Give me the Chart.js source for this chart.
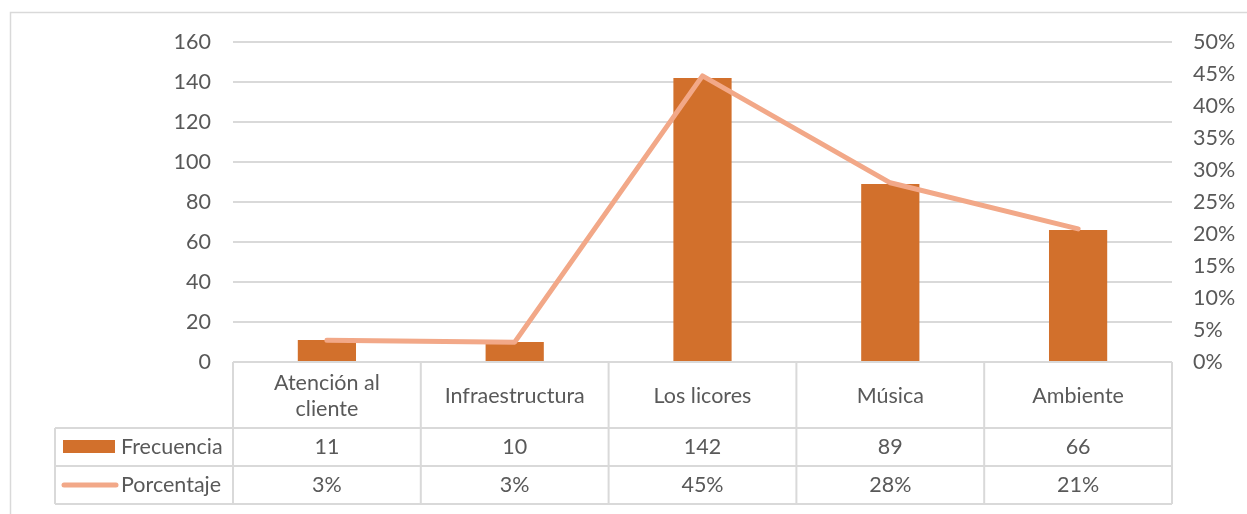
<!DOCTYPE html>
<html>
<head>
<meta charset="utf-8">
<script src="https://cdn.jsdelivr.net/npm/chart.js@4/dist/chart.umd.min.js"></script>
<style>
  html, body { margin: 0; padding: 0; background: #fff; }
  #wrap { width: 1247px; height: 514px; position: relative; }
</style>
</head>
<body>
<div id="wrap"><canvas id="c" width="1247" height="514"></canvas></div>
<script>
// Categories (multi-line labels for the table header)
const categories = [["Atención al", "cliente"], ["Infraestructura"], ["Los licores"], ["Música"], ["Ambiente"]];
// Frequency per category (left axis)
const frecuencia = [11, 10, 142, 89, 66];
// Share of the total per category (right axis, fraction)
const porcentaje = [0.034, 0.031, 0.447, 0.280, 0.208];
// Series names
const serieBarras = "Frecuencia";
const serieLinea = "Porcentaje";

const FONT = "Lato, 'Open Sans', sans-serif";
const FS = 21.5;
const TEXT = "#595959";
const GRID = "#D9D9D9";
const BAR = "#D2702C";
const LINE = "#F2A888";

// Table geometry below the plot
const TABLE = { headerH: 66, rowH: 38, legendLeft: 55 };

const tablePlugin = {
  id: "dataTable",
  beforeDraw(chart) {
    const ctx = chart.ctx;
    ctx.save();
    ctx.strokeStyle = GRID;
    ctx.lineWidth = 1.5;
    ctx.strokeRect(10.5, 12.5, chart.width + 10, chart.height + 10);
    ctx.restore();
  },
  afterDraw(chart) {
    const ctx = chart.ctx;
    const x = chart.scales.x;
    const area = chart.chartArea;
    const n = categories.length;
    const colW = (area.right - area.left) / n;
    const top = area.bottom;
    const y1 = top + TABLE.headerH;
    const y2 = y1 + TABLE.rowH;
    const y3 = y2 + TABLE.rowH;

    ctx.save();
    ctx.strokeStyle = GRID;
    ctx.lineWidth = 2;
    ctx.beginPath();
    // horizontal rules
    ctx.moveTo(area.left, top); ctx.lineTo(area.right, top);
    [y1, y2, y3].forEach(y => { ctx.moveTo(TABLE.legendLeft, y); ctx.lineTo(area.right, y); });
    // vertical rules
    for (let i = 0; i <= n; i++) {
      const xx = area.left + i * colW;
      ctx.moveTo(xx, top); ctx.lineTo(xx, y3);
    }
    ctx.moveTo(TABLE.legendLeft, y1); ctx.lineTo(TABLE.legendLeft, y3);
    ctx.stroke();

    ctx.fillStyle = TEXT;
    ctx.font = FS + "px " + FONT;
    ctx.textAlign = "center";
    ctx.textBaseline = "middle";
    categories.forEach((lab, i) => {
      const cx = x.getPixelForValue(i);
      const lh = 26;
      const startY = top + TABLE.headerH / 2 + 1 - (lab.length - 1) * lh / 2;
      lab.forEach((t, k) => ctx.fillText(t, cx, startY + k * lh));
      ctx.fillText(String(frecuencia[i]), cx, y1 + TABLE.rowH / 2);
      ctx.fillText(Math.round(porcentaje[i] * 100) + "%", cx, y2 + TABLE.rowH / 2);
    });

    // legend keys
    ctx.textAlign = "left";
    ctx.fillStyle = BAR;
    ctx.fillRect(63, y1 + 12, 52, 13);
    ctx.strokeStyle = LINE;
    ctx.lineWidth = 5;
    ctx.lineCap = "round";
    ctx.beginPath();
    ctx.moveTo(64, y2 + 19); ctx.lineTo(116, y2 + 19);
    ctx.stroke();
    ctx.fillStyle = TEXT;
    ctx.fillText(serieBarras, 121, y1 + TABLE.rowH / 2);
    ctx.fillText(serieLinea, 121, y2 + TABLE.rowH / 2);
    ctx.restore();
  }
};

new Chart(document.getElementById("c"), {
  data: {
    labels: categories.map(l => l.join(" ")),
    datasets: [
      {
        type: "line",
        label: serieLinea,
        data: porcentaje,
        yAxisID: "y1",
        borderColor: LINE,
        borderWidth: 5,
        borderCapStyle: "round",
        borderJoinStyle: "round",
        pointRadius: 0,
        tension: 0,
        order: 0
      },
      {
        type: "bar",
        label: serieBarras,
        data: frecuencia,
        yAxisID: "y",
        backgroundColor: BAR,
        categoryPercentage: 1,
        barPercentage: 0.31,
        order: 1
      }
    ]
  },
  plugins: [tablePlugin],
  options: {
    responsive: false,
    animation: false,
    layout: { padding: { left: 0, right: 0, top: 42, bottom: 152 } },
    plugins: { legend: { display: false }, tooltip: { enabled: false } },
    scales: {
      x: { display: false, offset: true },
      y: {
        position: "left",
        min: 0, max: 160,
        ticks: { stepSize: 20, color: TEXT, font: { family: FONT, size: FS }, padding: 22 },
        grid: { color: GRID, lineWidth: 2, drawTicks: false },
        border: { display: false },
        afterFit(s) { s.width = 233; }
      },
      y1: {
        position: "right",
        min: 0, max: 0.5,
        ticks: {
          stepSize: 0.05, color: TEXT, font: { family: FONT, size: FS }, padding: 21,
          callback: v => Math.round(v * 100) + "%"
        },
        grid: { drawOnChartArea: false, drawTicks: false },
        border: { display: false },
        afterFit(s) { s.width = 75; }
      }
    }
  }
});
</script>
</body>
</html>
